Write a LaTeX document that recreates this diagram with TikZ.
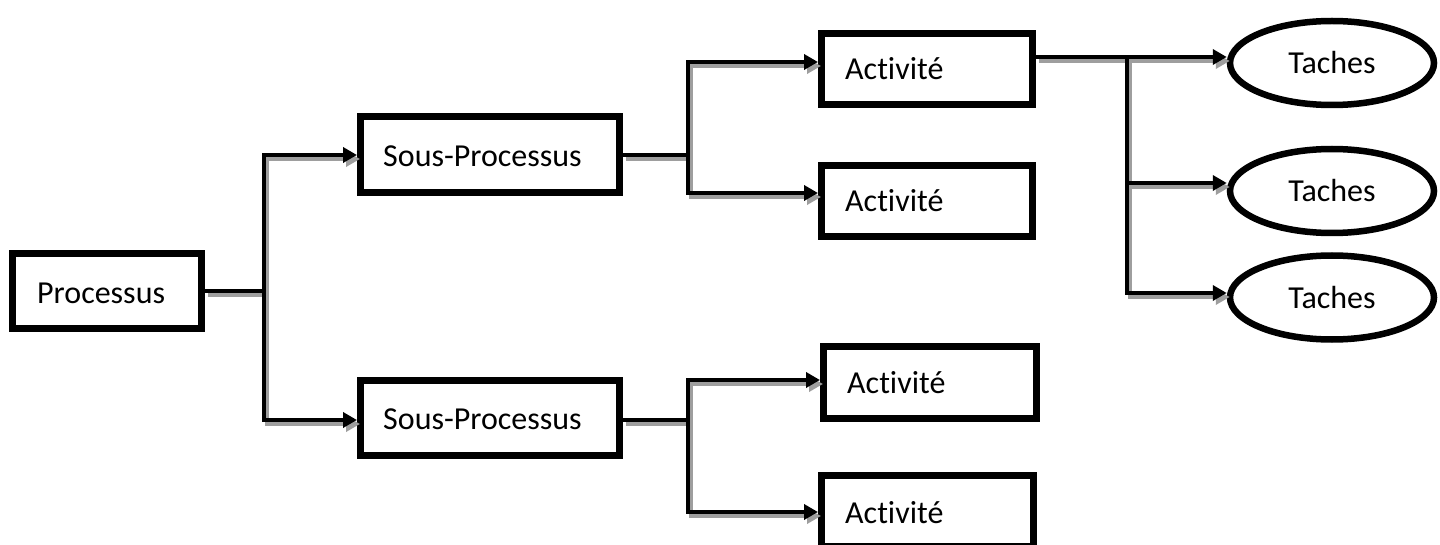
\documentclass[tikz,border=0pt]{standalone}
\usepackage{fontspec}
\setmainfont{Carlito}[Ligatures={NoCommon,NoRequired,NoContextual}]
\usetikzlibrary{arrows.meta,shapes.geometric}
\begin{document}
\begin{tikzpicture}[x=1pt,y=-1pt,
  box/.style={draw,line width=7pt,inner sep=0pt,minimum width=211pt,minimum height=71pt},
  lbl/.style={anchor=base west,inner sep=0pt,font=\fontsize{32}{38}\selectfont},
  tache/.style={draw,ellipse,line width=6.5pt,inner sep=0pt,minimum width=204pt,minimum height=84pt,
    font=\fontsize{32}{38}\selectfont},
  tip/.style={-{Triangle[length=14pt,width=15pt]}},
  wireshadow/.style={draw=black!38,line width=4pt,transform canvas={shift={(3pt,-4pt)}}},
  wire/.style={draw=black,line width=4pt}]
\useasboundingbox (0,0) rectangle (1440,545);
\clip (0,0) rectangle (1440,545);
\fill[white] (0,0) rectangle (1440,545);

% boxes
\node[box,minimum width=189pt,minimum height=75pt] (proc) at (107,291) {};
\node[box,minimum width=259pt,minimum height=76pt] (sp1) at (490,155) {};
\node[box,minimum width=259pt,minimum height=75pt] (sp2) at (490,418) {};
\node[box] (a1) at (927,69) {};
\node[box] (a2) at (927,201) {};
\node[box,minimum width=213pt,minimum height=72pt] (a3) at (930,382.5) {};
\node[box,minimum width=212pt] (a4) at (927.5,511) {};

% box captions
\node[lbl] (procT) at (37,303) {Processus};
\node[lbl] (sp1T) at (383,167) {Sous-Processus};
\node[lbl] (sp2T) at (383,429) {Sous-Processus};
\node[lbl] (a1T) at (845,80) {Activité};
\node[lbl] (a2T) at (845,212) {Activité};
\node[lbl] (a3T) at (847,393) {Activité};
\node[lbl] (a4T) at (845,523) {Activité};

% tasks
\node[tache] (t1) at (1332,63) {Taches};
\node[tache] (t2) at (1332,191) {Taches};
\node[tache] (t3) at (1332,297.5) {Taches};

% branching points
\coordinate (j1) at (264,291);
\coordinate (j2) at (688,155);
\coordinate (j3) at (688,420);
\coordinate (j4) at (1127,57);

\newcommand\drawwires[1]{%
  \draw[#1] (proc.east) -- (j1);
  \draw[#1,tip] (j1) |- (sp1.west);
  \draw[#1,tip] (j1) |- (sp2.west |- 0,420);
  \draw[#1] (sp1.east) -- (j2);
  \draw[#1,tip] (j2) |- (a1.west |- 0,62);
  \draw[#1,tip] (j2) |- (a2.west |- 0,193);
  \draw[#1] (sp2.east |- j3) -- (j3);
  \draw[#1,tip] (j3) |- (a3.west |- 0,380);
  \draw[#1,tip] (j3) |- (a4.west |- 0,512);
  \draw[#1,tip] (a1.east |- j4) -- (t1.west |- j4);
  \draw[#1,tip] (j4) |- (t2.west |- 0,183);
  \draw[#1,tip] (j4) |- (t3.west |- 0,293);
}
\drawwires{wireshadow}
\drawwires{wire}
\end{tikzpicture}
\end{document}
